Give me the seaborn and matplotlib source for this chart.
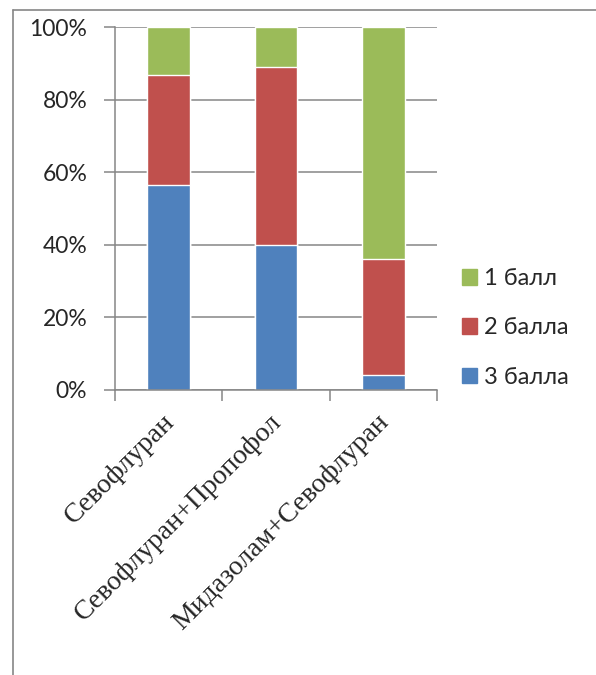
import matplotlib
matplotlib.use("Agg")
import matplotlib.pyplot as plt
import matplotlib.transforms as mtransforms
import seaborn as sns
from matplotlib.patches import Patch
from matplotlib.lines import Line2D

groups = ["Севофлуран", "Севофлуран+Пропофол", "Мидазолам+Севофлуран"]
score_3 = [56.5, 40.0, 4.0]
score_2 = [30.4, 48.9, 32.0]
score_1 = [13.1, 11.1, 64.0]
series_names = ["1 балл", "2 балла", "3 балла"]
colors = {"1 балл": "#9BBB59", "2 балла": "#C0504D", "3 балла": "#4F81BD"}

sns.set_theme(style="white")
plt.rcParams['font.family'] = ['Lato', 'DejaVu Sans']

fig = plt.figure(figsize=(5.96, 6.75), dpi=100)
ax = fig.add_axes([115 / 596, 1 - 390 / 675, 322 / 596, 363 / 675])

grid_c = "#868686"
for v in range(0, 101, 20):
    ax.axhline(v, color=grid_c, lw=1.1, zorder=0)

# stacked: draw totals from the top down so each layer covers the one above
top_1 = [a + b + c for a, b, c in zip(score_3, score_2, score_1)]
top_2 = [a + b for a, b in zip(score_3, score_2)]
sns.barplot(x=groups, y=top_1, color=colors["1 балл"], width=0.4, saturation=1, ax=ax, zorder=2)
sns.barplot(x=groups, y=top_2, color=colors["2 балла"], width=0.4, saturation=1, ax=ax, zorder=2)
sns.barplot(x=groups, y=score_3, color=colors["3 балла"], width=0.4, saturation=1, ax=ax, zorder=2)

ax.set_xlim(-0.5, 2.5)
ax.set_ylim(0, 100)
ax.set_yticks(range(0, 101, 20))
ax.set_yticklabels([f"{v}%" for v in range(0, 101, 20)], fontsize=16.5)
ax.tick_params(axis="y", length=8, width=1.1, color=grid_c, pad=12, left=True)

ax.set_xticks(range(3))
ax.set_xticklabels(groups, rotation=45, ha="right", rotation_mode="anchor",
                   family="Liberation Serif", fontsize=20)
ax.tick_params(axis="x", length=0, pad=14)
shift = mtransforms.ScaledTranslation(-0.07, 0, fig.dpi_scale_trans)
for lbl in ax.get_xticklabels():
    lbl.set_transform(lbl.get_transform() + shift)
ax.set_xticks([-0.5, 0.5, 1.5, 2.5], minor=True)
ax.tick_params(axis="x", which="minor", length=8, width=1.1, color=grid_c, bottom=True)
ax.set_xlabel("")
ax.set_ylabel("")

for s in ["top", "right"]:
    ax.spines[s].set_visible(False)
for s in ["left", "bottom"]:
    ax.spines[s].set_color(grid_c)
    ax.spines[s].set_linewidth(1.1)

handles = [Patch(color=colors[n]) for n in series_names]
fig.legend(handles, series_names, loc="center left",
           bbox_to_anchor=(462 / 596, 1 - 328 / 675), frameon=False,
           fontsize=17, handlelength=0.65, handleheight=0.65,
           handletextpad=0.3, labelspacing=1.2, borderpad=0, borderaxespad=0)

# outer chart frame (top and left edges visible)
fig.add_artist(Line2D([13 / 596, 13 / 596], [0, 1 - 10 / 675], color=grid_c, lw=1.2))
fig.add_artist(Line2D([13 / 596, 1], [1 - 10 / 675, 1 - 10 / 675], color=grid_c, lw=1.2))

fig.savefig("out.png", dpi=100)
